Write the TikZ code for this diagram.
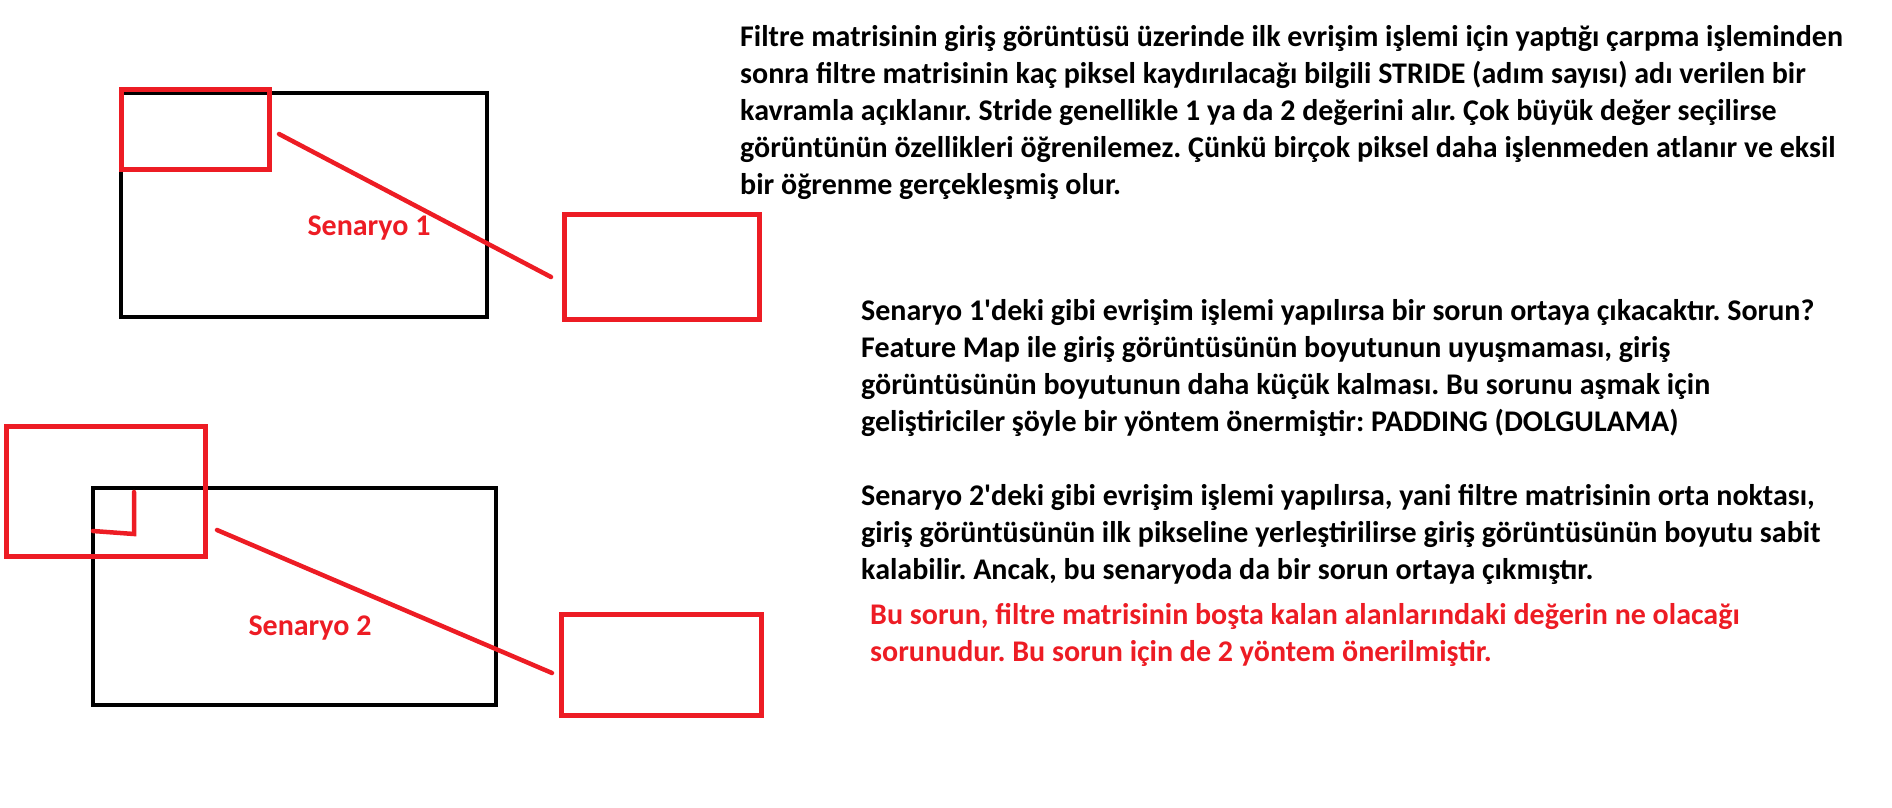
\documentclass[tikz,border=0pt]{standalone}
\usepackage{fontspec}
\setmainfont{Carlito}
\usepackage{tikz}
\usetikzlibrary{positioning}
\frenchspacing
\definecolor{pred}{HTML}{ED1C24}
\tikzset{
  img/.style={draw=black,line width=4.5pt},
  filt/.style={draw=pred,line width=5pt},
  link/.style={pred,line width=4.5pt,line cap=round},
  para/.style={anchor=base west,align=left,inner sep=0pt,font=\fontsize{30}{37}\selectfont\bfseries},
  lbl/.style={anchor=base,inner sep=0pt,text=pred,font=\fontsize{30}{34}\selectfont\bfseries},
}
\begin{document}
\begin{tikzpicture}[x=1pt,y=-1pt]
  \useasboundingbox (0,0) rectangle (1892,808);
  % senaryo 1
  \draw[img] (121,93) rectangle (487,317);
  \draw[filt] (121,89) rectangle (269,169);
  \draw[filt] (564,214) rectangle (759,319);
  \coordinate (s1a) at (279,134); \coordinate (s1b) at (551,277);
  \draw[link] (s1a) -- (s1b);
  \node[lbl] (sen1) at (369,235) {Senaryo 1};
  % senaryo 2
  \draw[img] (93,488) rectangle (496,705);
  \draw[filt] (6,426) rectangle (205,556);
  \coordinate (c2a) at (134,492); \coordinate (c2b) at (134,534); \coordinate (c2c) at (93,531);
  \draw[link] (c2a) -- (c2b) -- (c2c);
  \draw[filt] (561,614) rectangle (761,715);
  \coordinate (s2a) at (217,530); \coordinate (s2b) at (552,673);
  \draw[link] (s2a) -- (s2b);
  \node[lbl] (sen2) at (310,635) {Senaryo 2};
  % metinler (konum: son satirin tabani)
  \node[para] (stride) at (740,194) {Filtre matrisinin giriş görüntüsü üzerinde ilk evrişim işlemi için yaptığı çarpma işleminden\\
    sonra filtre matrisinin kaç piksel kaydırılacağı bilgili STRIDE (adım sayısı) adı verilen bir\\
    kavramla açıklanır. Stride genellikle 1 ya da 2 değerini alır. Çok büyük değer seçilirse\\
    görüntünün özellikleri öğrenilemez. Çünkü birçok piksel daha işlenmeden atlanır ve eksil\\
    bir öğrenme gerçekleşmiş olur.};
  \node[para] (pad) at (861,431) {Senaryo 1\textquotesingle deki gibi evrişim işlemi yapılırsa bir sorun ortaya çıkacaktır. Sorun?\\
    Feature Map ile giriş görüntüsünün boyutunun uyuşmaması, giriş\\
    görüntüsünün boyutunun daha küçük kalması. Bu sorunu aşmak için\\
    geliştiriciler şöyle bir yöntem önermiştir: PADDING (DOLGULAMA)};
  \node[para] (mid) at (861,579) {Senaryo 2\textquotesingle deki gibi evrişim işlemi yapılırsa, yani filtre matrisinin orta noktası,\\
    giriş görüntüsünün ilk pikseline yerleştirilirse giriş görüntüsünün boyutu sabit\\
    kalabilir. Ancak, bu senaryoda da bir sorun ortaya çıkmıştır.};
  \node[para,text=pred] (soru) at (870,661) {Bu sorun, filtre matrisinin boşta kalan alanlarındaki değerin ne olacağı\\
    sorunudur. Bu sorun için de 2 yöntem önerilmiştir.};
\end{tikzpicture}
\end{document}
